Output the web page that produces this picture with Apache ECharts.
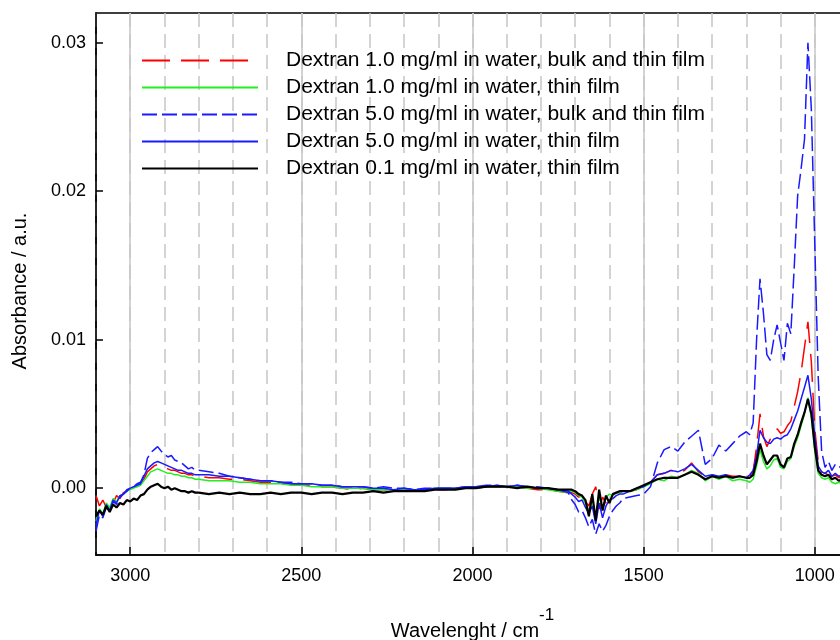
<!DOCTYPE html>
<html>
<head>
<meta charset="utf-8">
<title>Dextran IR absorbance</title>
<script src="https://cdn.jsdelivr.net/npm/echarts@6/dist/echarts.min.js"></script>
<style>
  html, body { margin: 0; padding: 0; background: #fff; overflow: hidden; }
  #chart { width: 849px; height: 640px; }
</style>
</head>
<body>
<div id="chart"></div>
<script>
// Wavenumber grid (cm^-1), shared by all spectra
const wavenumbers = [
  3100, 3090, 3080, 3070, 3060, 3050, 3040, 3030, 3020, 3010, 3000, 2990, 2980, 2970, 2960, 2950,
  2940, 2930, 2920, 2910, 2900, 2890, 2880, 2870, 2860, 2850, 2840, 2830, 2820, 2810, 2800,
  2770, 2740, 2710, 2680, 2650, 2620, 2590, 2560, 2530, 2500, 2470, 2440, 2410, 2380, 2350, 2320,
  2290, 2260, 2230, 2200, 2170, 2140, 2110, 2080, 2050, 2020, 1990, 1960, 1930, 1900, 1870, 1840,
  1810, 1780, 1750, 1720,
  1710, 1700, 1690, 1680, 1670, 1660, 1650, 1640, 1630, 1620, 1610, 1600, 1590, 1580, 1570, 1560,
  1540, 1520, 1500, 1480, 1460, 1440, 1420, 1400, 1380, 1360, 1340, 1320, 1300, 1280, 1260, 1240,
  1220, 1200,
  1190, 1180, 1170, 1160, 1150, 1140, 1130, 1120, 1110, 1100, 1090, 1080, 1070, 1060, 1050, 1040,
  1030, 1020, 1010, 1000, 990, 980, 970, 960, 950, 940, 930, 920
];

// Dextran 1.0 mg/ml, bulk and thin film
const dex10Bulk = [
  -0.0005, -0.0012, -0.0008, -0.0013, -0.0007, -0.0010, -0.0005, -0.0007, -0.0003, -0.0002, 0.0000, 0.0001, 0.0002, 0.0003, 0.0006, 0.0011,
  0.0013, 0.0015, 0.0016, 0.0015, 0.0014, 0.0013, 0.0012, 0.0012, 0.0011, 0.0010, 0.0010, 0.0009, 0.0009, 0.0008, 0.0008,
  0.0007, 0.0007, 0.0006, 0.0006, 0.0005, 0.0004, 0.0004, 0.0003, 0.0003, 0.0002, 0.0002, 0.0001, 0.0001, 0.0000, -0.0001, 0.0000,
  -0.0001, -0.0001, -0.0001, -0.0001, -0.0002, -0.0001, -0.0001, -0.0001, 0.0000, 0.0000, 0.0000, 0.0001, 0.0001, 0.0001, 0.0001, 0.0000,
  -0.0001, -0.0001, -0.0002, -0.0003,
  -0.0003, -0.0004, -0.0006, -0.0005, -0.0009, -0.0012, -0.0004, 0.0001, -0.0014, -0.0006, -0.0010, -0.0005, -0.0004, -0.0003, -0.0003, -0.0002,
  -0.0002, -0.0001, 0.0001, 0.0004, 0.0009, 0.0010, 0.0012, 0.0010, 0.0012, 0.0017, 0.0011, 0.0008, 0.0009, 0.0007, 0.0009, 0.0008,
  0.0008, 0.0007,
  0.0008, 0.0011, 0.0028, 0.0050, 0.0035, 0.0028, 0.0033, 0.0036, 0.0040, 0.0037, 0.0038, 0.0042, 0.0045, 0.0055, 0.0065, 0.0078,
  0.0095, 0.0112, 0.0085, 0.0040, 0.0018, 0.0011, 0.0010, 0.0009, 0.0008, 0.0009, 0.0007, 0.0008
];

// Dextran 1.0 mg/ml, thin film
const dex10Film = [
  -0.0022, -0.0014, -0.0017, -0.0010, -0.0013, -0.0007, -0.0009, -0.0005, -0.0004, -0.0002, -0.0001, 0.0000, 0.0001, 0.0002, 0.0005, 0.0008,
  0.0011, 0.0012, 0.0013, 0.0012, 0.0011, 0.0010, 0.0010, 0.0009, 0.0009, 0.0008, 0.0008, 0.0007, 0.0007, 0.0006, 0.0006,
  0.0005, 0.0005, 0.0005, 0.0004, 0.0004, 0.0003, 0.0003, 0.0003, 0.0002, 0.0002, 0.0001, 0.0001, 0.0001, 0.0000, 0.0000, 0.0000,
  -0.0001, -0.0001, -0.0001, -0.0001, -0.0001, -0.0001, 0.0000, 0.0000, 0.0000, 0.0000, 0.0001, 0.0001, 0.0001, 0.0001, 0.0001, 0.0000,
  0.0000, -0.0001, -0.0002, -0.0003,
  -0.0002, -0.0003, -0.0005, -0.0006, -0.0010, -0.0015, -0.0008, -0.0018, -0.0006, -0.0013, -0.0006, -0.0004, -0.0005, -0.0003, -0.0003, -0.0002,
  -0.0002, -0.0001, 0.0001, 0.0003, 0.0006, 0.0005, 0.0008, 0.0007, 0.0009, 0.0012, 0.0010, 0.0005, 0.0008, 0.0006, 0.0008, 0.0005,
  0.0006, 0.0005,
  0.0004, 0.0006, 0.0015, 0.0026, 0.0018, 0.0013, 0.0015, 0.0019, 0.0020, 0.0014, 0.0013, 0.0018, 0.0020, 0.0028, 0.0034, 0.0042,
  0.0050, 0.0061, 0.0048, 0.0025, 0.0010, 0.0007, 0.0006, 0.0007, 0.0004, 0.0003, 0.0004, 0.0003
];

// Dextran 5.0 mg/ml, bulk and thin film
const dex50Bulk = [
  -0.0029, -0.0018, -0.0020, -0.0013, -0.0016, -0.0009, -0.0011, -0.0006, -0.0004, -0.0002, 0.0000, 0.0001, 0.0003, 0.0004, 0.0009, 0.0020,
  0.0024, 0.0026, 0.0028, 0.0025, 0.0023, 0.0021, 0.0022, 0.0019, 0.0018, 0.0017, 0.0015, 0.0013, 0.0014, 0.0012, 0.0012,
  0.0011, 0.0010, 0.0008, 0.0007, 0.0006, 0.0005, 0.0005, 0.0004, 0.0004, 0.0003, 0.0003, 0.0002, 0.0002, 0.0001, 0.0001, 0.0001,
  0.0000, 0.0001, 0.0000, 0.0000, -0.0001, 0.0000, 0.0000, 0.0000, 0.0000, 0.0001, 0.0001, 0.0002, 0.0002, 0.0001, 0.0002, 0.0001,
  0.0001, 0.0000, -0.0001, -0.0003,
  -0.0008, -0.0011, -0.0016, -0.0015, -0.0020, -0.0026, -0.0021, -0.0031, -0.0024, -0.0029, -0.0025, -0.0019, -0.0015, -0.0012, -0.0010, -0.0007,
  -0.0006, -0.0005, -0.0004, 0.0001, 0.0017, 0.0026, 0.0028, 0.0025, 0.0031, 0.0035, 0.0039, 0.0016, 0.0020, 0.0029, 0.0025, 0.0030,
  0.0035, 0.0038,
  0.0036, 0.0044, 0.0100, 0.0141, 0.0118, 0.0090, 0.0086, 0.0100, 0.0110, 0.0098, 0.0086, 0.0111, 0.0104, 0.0149, 0.0197, 0.0215,
  0.0235, 0.0300, 0.0255, 0.0165, 0.0075, 0.0025, 0.0014, 0.0018, 0.0012, 0.0016, 0.0014, 0.0015
];

// Dextran 5.0 mg/ml, thin film
const dex50Film = [
  -0.0025, -0.0015, -0.0019, -0.0011, -0.0015, -0.0008, -0.0010, -0.0005, -0.0004, -0.0001, 0.0000, 0.0001, 0.0002, 0.0003, 0.0008, 0.0013,
  0.0015, 0.0017, 0.0018, 0.0017, 0.0016, 0.0015, 0.0014, 0.0013, 0.0012, 0.0012, 0.0011, 0.0010, 0.0010, 0.0009, 0.0009,
  0.0009, 0.0008, 0.0008, 0.0007, 0.0006, 0.0005, 0.0005, 0.0004, 0.0003, 0.0003, 0.0003, 0.0002, 0.0002, 0.0001, 0.0001, 0.0001,
  0.0000, 0.0000, -0.0001, 0.0000, -0.0001, -0.0001, 0.0000, 0.0000, 0.0000, 0.0001, 0.0001, 0.0001, 0.0002, 0.0001, 0.0002, 0.0001,
  0.0000, 0.0000, -0.0001, -0.0002,
  -0.0004, -0.0006, -0.0009, -0.0008, -0.0013, -0.0017, -0.0012, -0.0024, -0.0010, -0.0020, -0.0012, -0.0008, -0.0007, -0.0005, -0.0004, -0.0004,
  -0.0002, 0.0000, 0.0001, 0.0004, 0.0009, 0.0010, 0.0012, 0.0011, 0.0013, 0.0016, 0.0012, 0.0008, 0.0009, 0.0008, 0.0009, 0.0007,
  0.0008, 0.0007,
  0.0009, 0.0012, 0.0022, 0.0039, 0.0034, 0.0031, 0.0030, 0.0033, 0.0034, 0.0033, 0.0035, 0.0036, 0.0040, 0.0046, 0.0052, 0.0060,
  0.0068, 0.0076, 0.0060, 0.0035, 0.0015, 0.0011, 0.0010, 0.0012, 0.0008, 0.0010, 0.0008, 0.0009
];

// Dextran 0.1 mg/ml, thin film
const dex01Film = [
  -0.0019, -0.0015, -0.0018, -0.0012, -0.0016, -0.0011, -0.0013, -0.0010, -0.0011, -0.0008, -0.0009, -0.0007, -0.0008, -0.0005, -0.0004, -0.0001,
  0.0001, 0.0002, 0.0003, 0.0001, 0.0000, 0.0001, -0.0001, 0.0000, -0.0001, -0.0002, -0.0002, -0.0003, -0.0002, -0.0003, -0.0003,
  -0.0004, -0.0003, -0.0004, -0.0003, -0.0004, -0.0004, -0.0003, -0.0004, -0.0003, -0.0003, -0.0004, -0.0003, -0.0003, -0.0004, -0.0003, -0.0003,
  -0.0002, -0.0003, -0.0002, -0.0002, -0.0002, -0.0002, -0.0001, -0.0001, -0.0001, 0.0000, 0.0000, 0.0001, 0.0001, 0.0001, 0.0000, 0.0001,
  0.0000, 0.0000, -0.0001, -0.0001,
  -0.0001, -0.0002, -0.0004, -0.0005, -0.0008, -0.0019, -0.0004, -0.0022, -0.0001, -0.0015, -0.0005, -0.0010, -0.0004, -0.0003, -0.0002, -0.0002,
  -0.0002, 0.0000, 0.0002, 0.0004, 0.0006, 0.0007, 0.0007, 0.0007, 0.0009, 0.0011, 0.0009, 0.0006, 0.0008, 0.0007, 0.0008, 0.0007,
  0.0008, 0.0007,
  0.0007, 0.0009, 0.0018, 0.0030, 0.0022, 0.0016, 0.0019, 0.0022, 0.0022, 0.0016, 0.0014, 0.0020, 0.0021, 0.0030, 0.0036, 0.0044,
  0.0051, 0.0060, 0.0050, 0.0028, 0.0012, 0.0009, 0.0008, 0.0009, 0.0006, 0.0007, 0.0005, 0.0006
];

const seriesNames = [
  'Dextran 1.0 mg/ml in water, bulk and thin film',
  'Dextran 1.0 mg/ml in water, thin film',
  'Dextran 5.0 mg/ml in water, bulk and thin film',
  'Dextran 5.0 mg/ml in water, thin film',
  'Dextran 0.1 mg/ml in water, thin film'
];

// Labelled ticks on both axes
const xTickValues = [1000, 1500, 2000, 2500, 3000];
const yTickValues = [0, 0.01, 0.02, 0.03];

const FONT = '"Liberation Sans", Arial, Helvetica, sans-serif';
const GRID_GRAY = '#c6c6c6';

function pairs(values) {
  return wavenumbers.map((w, i) => [w, values[i]]);
}

function spectrum(name, values, color, width, dash) {
  return {
    name: name,
    type: 'line',
    xAxisIndex: 0,
    yAxisIndex: 0,
    data: pairs(values),
    symbol: 'none',
    showSymbol: false,
    smooth: false,
    clip: true,
    lineStyle: { color: color, width: width, type: dash },
    itemStyle: { color: color },
    emphasis: { disabled: true }
  };
}

const series = [
  spectrum(seriesNames[0], dex10Bulk, '#ff0000', 1.5, [28, 11]),
  spectrum(seriesNames[1], dex10Film, '#22ee22', 1.5, 'solid'),
  spectrum(seriesNames[2], dex50Bulk, '#1a1aff', 1.5, [15, 5]),
  spectrum(seriesNames[3], dex50Film, '#1a1aff', 1.5, 'solid'),
  spectrum(seriesNames[4], dex01Film, '#000000', 2.2, 'solid')
];

const chart = echarts.init(document.getElementById('chart'), null, { renderer: 'canvas' });

// Shared wavenumber range of both x axes (reversed)
const xRange = { type: 'value', inverse: true, min: 900, max: 3100 };

chart.setOption({
  animation: false,
  backgroundColor: '#ffffff',
  textStyle: { fontFamily: FONT },
  grid: {
    left: 96, right: 0, top: 13, bottom: 85,
    outerBoundsMode: 'none',
    show: true, borderColor: '#000', borderWidth: 1.5,
    containLabel: false
  },
  legend: {
    orient: 'vertical',
    left: 141,
    top: 50,
    padding: 0,
    itemGap: 6,
    itemWidth: 116,
    itemHeight: 14,
    selectedMode: false,
    itemStyle: { opacity: 0 },
    textStyle: {
      fontFamily: FONT, fontSize: 21, lineHeight: 21, color: '#000',
      padding: [0, 0, 0, 23]
    },
    data: seriesNames
  },
  xAxis: [
    // labelled axis: major ticks and solid guides every 500 cm^-1
    Object.assign({}, xRange, {
      position: 'bottom',
      interval: 100,
      axisLine: { show: true, onZero: false, lineStyle: { color: '#000', width: 1.5 } },
      axisTick: {
        show: true, inside: true, length: 8, customValues: xTickValues,
        lineStyle: { color: '#000', width: 1.5 }
      },
      axisLabel: {
        show: true, customValues: xTickValues, margin: 12,
        fontFamily: FONT, fontSize: 18, color: '#000',
        formatter: v => String(v)
      },
      splitLine: {
        show: true,
        lineStyle: { color: GRID_GRAY, width: 1.5, type: 'solid' }
      },
      name: '{t|Wavelenght / cm}{s|-1}',
      nameLocation: 'middle',
      nameGap: 52,
      nameTextStyle: {
        rich: {
          t: { fontFamily: FONT, fontSize: 20, color: '#000', lineHeight: 34, verticalAlign: 'bottom' },
          s: { fontFamily: FONT, fontSize: 17, color: '#000', lineHeight: 34, verticalAlign: 'top' }
        }
      }
    }),
    // helper axis: dashed guides every 100 cm^-1
    Object.assign({}, xRange, {
      position: 'top',
      interval: 100,
      axisLine: { show: false },
      axisTick: { show: false },
      axisLabel: { show: false },
      splitLine: {
        show: true,
        lineStyle: { color: GRID_GRAY, width: 1.5, type: [14, 7] }
      }
    })
  ],
  yAxis: {
    type: 'value',
    min: -0.0045,
    max: 0.032,
    axisLine: { show: true, onZero: false, lineStyle: { color: '#000', width: 1.5 } },
    axisTick: {
      show: true, inside: true, length: 7, customValues: yTickValues,
      lineStyle: { color: '#000', width: 1.5 }
    },
    axisLabel: {
      show: true, customValues: yTickValues, margin: 10,
      fontFamily: FONT, fontSize: 18, color: '#000',
      formatter: v => v.toFixed(2)
    },
    splitLine: { show: false },
    name: 'Absorbance / a.u.',
    nameLocation: 'middle',
    nameRotate: 90,
    nameGap: 66,
    nameTextStyle: { fontFamily: FONT, fontSize: 20, color: '#000', padding: [0, 14, 0, 0] }
  },
  series: series
});
</script>
</body>
</html>
